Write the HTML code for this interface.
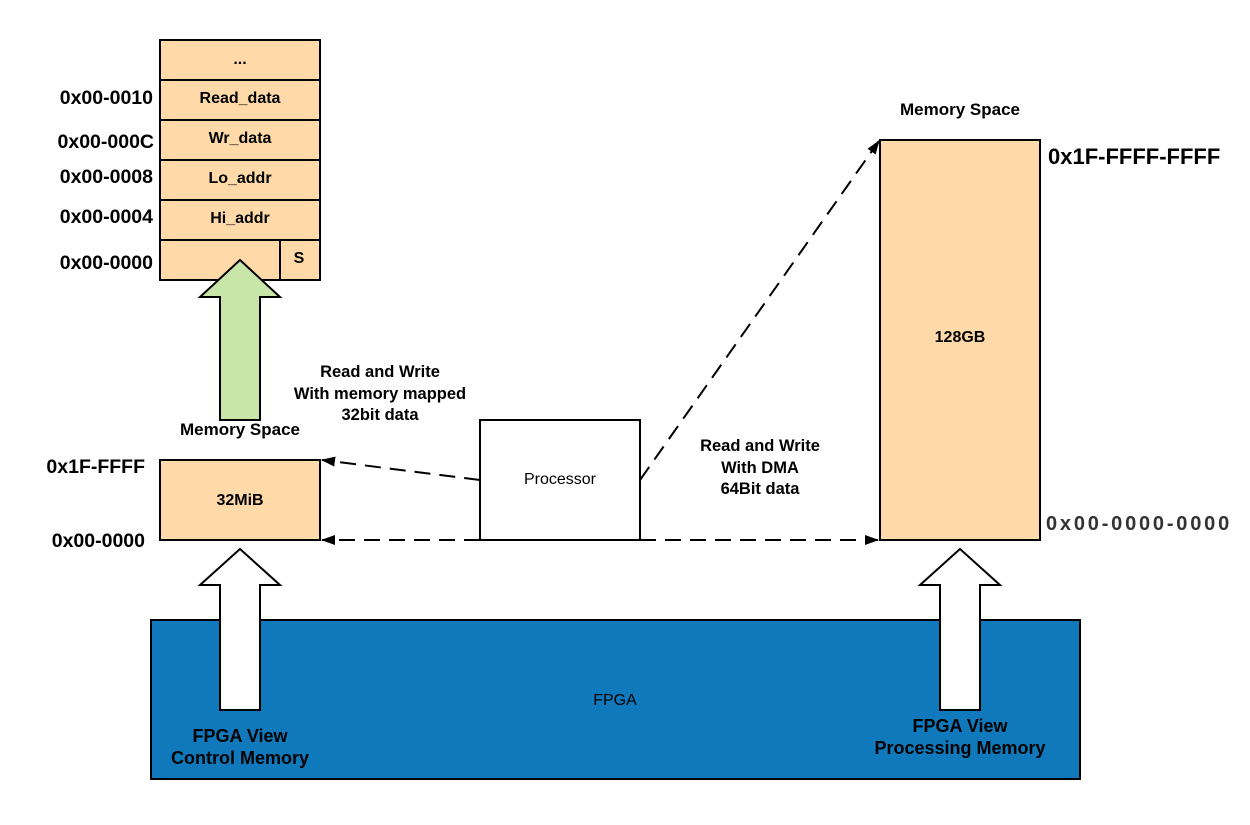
<!DOCTYPE html>
<html><head><meta charset="utf-8"><style>
body{margin:0;background:#fff}
text{font-family:"Liberation Sans",Arial,sans-serif}
.b{font-weight:bold;font-size:16px}
</style></head><body>
<svg width="1250" height="820" viewBox="0 0 1250 820" xmlns="http://www.w3.org/2000/svg">
<defs><marker id="ah" markerWidth="14" markerHeight="10" refX="13" refY="5" orient="auto" markerUnits="userSpaceOnUse"><path d="M0,0 L14,5 L0,10 Z" fill="#000"/></marker></defs>
<rect x="151" y="620" width="929" height="159" fill="#1079bc" stroke="#000" stroke-width="2"/>
<text x="615" y="705" text-anchor="middle" font-size="16">FPGA</text>
<g fill="#ffdaa8" stroke="#000" stroke-width="2">
<rect x="160" y="40" width="160" height="40"/><rect x="160" y="80" width="160" height="40"/>
<rect x="160" y="120" width="160" height="40"/><rect x="160" y="160" width="160" height="40"/>
<rect x="160" y="200" width="160" height="40"/><rect x="160" y="240" width="120" height="40"/>
<rect x="280" y="240" width="40" height="40"/>
<rect x="160" y="460" width="160" height="80"/>
<rect x="880" y="140" width="160" height="400"/>
</g>
<g text-anchor="middle">
<text x="240" y="64" class="b">...</text>
<text x="240" y="103" class="b">Read_data</text>
<text x="240" y="143" class="b">Wr_data</text>
<text x="240" y="183" class="b">Lo_addr</text>
<text x="240" y="223" class="b">Hi_addr</text>
<text x="299" y="263" class="b">S</text>
<text x="240" y="505" class="b">32MiB</text>
<text x="960" y="342" class="b">128GB</text>
</g>
<g text-anchor="end" font-weight="bold" font-size="19.5">
<text x="153" y="104">0x00-0010</text>
<text x="154" y="148">0x00-000C</text>
<text x="153" y="183">0x00-0008</text>
<text x="153" y="223">0x00-0004</text>
<text x="153" y="269">0x00-0000</text>
<text x="145" y="473">0x1F-FFFF</text>
<text x="145" y="547">0x00-0000</text>
</g>
<text x="1048" y="164" font-weight="bold" font-size="22">0x1F-FFFF-FFFF</text>
<text x="1046" y="530" font-weight="bold" font-size="20" fill="#333" letter-spacing="2.8">0x00-0000-0000</text>
<path d="M240,260 L280,297 L260,297 L260,420 L220,420 L220,297 L200,297 Z" fill="#c8e6a8" stroke="#000" stroke-width="2"/>
<path d="M240,549 L280,585 L260,585 L260,710 L220,710 L220,585 L200,585 Z" fill="#fff" stroke="#000" stroke-width="2"/>
<path d="M960,549 L1000,585 L980,585 L980,710 L940,710 L940,585 L920,585 Z" fill="#fff" stroke="#000" stroke-width="2"/>
<g text-anchor="middle" font-weight="bold" font-size="17">
<text x="240" y="435">Memory Space</text>
<text x="960" y="115">Memory Space</text>
</g>
<g text-anchor="middle" font-weight="bold" font-size="18">
<text x="240" y="742">FPGA View</text>
<text x="240" y="764">Control Memory</text>
<text x="960" y="732">FPGA View</text>
<text x="960" y="754">Processing Memory</text>
</g>
<rect x="480" y="420" width="160" height="120" fill="#fff" stroke="#000" stroke-width="2"/>
<text x="560" y="484" text-anchor="middle" font-size="16">Processor</text>
<g stroke="#000" stroke-width="2" stroke-dasharray="16,9" fill="none">
<line x1="480" y1="480" x2="322" y2="460" marker-end="url(#ah)"/>
<line x1="480" y1="540" x2="322" y2="540" marker-end="url(#ah)"/>
<line x1="640" y1="480" x2="879" y2="141" marker-end="url(#ah)"/>
<line x1="640" y1="540" x2="878" y2="540" marker-end="url(#ah)"/>
</g>
<g text-anchor="middle" font-weight="bold" font-size="16.5">
<text x="380" y="377">Read and Write</text>
<text x="380" y="399">With memory mapped</text>
<text x="380" y="420">32bit data</text>
<text x="760" y="451">Read and Write</text>
<text x="760" y="473">With DMA</text>
<text x="760" y="494">64Bit data</text>
</g>
</svg>
</body></html>
